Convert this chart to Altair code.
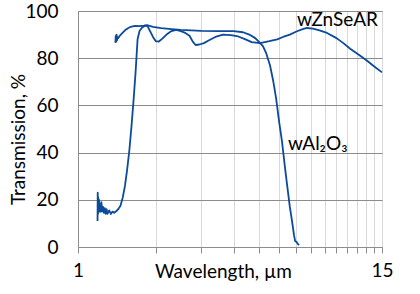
import altair as alt
import pandas as pd

# ---- data ----
znse_wl = [1.190, 1.192, 1.195, 1.198, 1.203, 1.207, 1.212, 1.218, 1.225, 1.232, 1.24, 1.25, 1.26,
           1.27, 1.28, 1.29, 1.30, 1.32, 1.34, 1.36, 1.38, 1.40, 1.43, 1.46, 1.49, 1.52, 1.55, 1.58,
           1.61, 1.64, 1.67, 1.70, 1.73, 1.77, 1.82, 1.86, 1.90, 1.95, 2.00, 2.05, 2.12, 2.2, 2.3,
           2.4, 2.5, 2.6, 2.7, 2.78, 2.85, 2.95, 3.07, 3.2, 3.4, 3.64, 3.9, 4.12, 4.4, 4.7, 5.06,
           5.5, 5.9, 6.21, 6.6, 7.0, 7.4, 7.69, 8.1, 8.6, 9.19, 10.0, 10.6, 11.3, 12.2, 13.1, 14.0, 15.0]
znse_t = [11, 23, 14, 21, 16, 20, 15, 18, 15, 19, 15, 17, 14.5,
          16.5, 14, 16, 14, 15.5, 14, 15, 14.5, 15, 16, 17.5, 21, 26, 33, 41,
          51, 62, 74, 88, 91.5, 93, 93.8, 93.5, 91.5, 89, 87.2, 87, 88.3, 90, 91.5,
          92, 91.5, 90.7, 89.5, 87, 85.6, 85.8, 86.4, 87.5, 89, 90, 89.8, 89.4, 88.2, 86.8, 86.4,
          87.2, 88, 89, 90, 91.3, 92.3, 92.8, 92.5, 91.8, 90.7, 88.5, 86.5, 84, 81.5, 79, 76.5, 74]

al_wl = [1.395, 1.40, 1.405, 1.41, 1.415, 1.42, 1.43, 1.45, 1.48, 1.52, 1.56, 1.6, 1.66, 1.72,
         1.8, 1.85, 1.95, 2.1, 2.3, 2.5, 3.0, 3.5, 4.0, 4.35, 4.6, 4.85, 5.06, 5.2, 5.35, 5.53,
         5.7, 5.84, 6.0, 6.15, 6.3, 6.43, 6.6, 6.73, 6.85, 6.92, 7.0, 7.1, 7.17]
al_t = [86.5, 89.5, 87, 90, 87.5, 89, 88.5, 89.5, 90.5, 91.8, 92.7, 93.3, 93.7, 93.6,
        93.8, 94, 93.3, 92.7, 92.3, 92, 91.6, 91.5, 91.5, 91, 90, 88.5, 86.5, 85, 82, 77,
        70, 63, 53, 45, 35, 27, 17, 11, 5, 2.5, 2.2, 1.2, 0.8]

x_ticks = list(range(1, 16))
y_ticks = [0, 20, 40, 60, 80, 100]

label_text = ["wZnSeAR", "wAl\u2082O\u2083"]
label_wl = [7.03, 6.49]
label_t = [93.6, 41.1]

FONT = "Lato"
LINE = "#0c4a9c"

rows = []
for i, (w, t) in enumerate(zip(znse_wl, znse_t)):
    rows.append({"series": "ZnSe", "i": i, "wl": w, "t": t})
for i, (w, t) in enumerate(zip(al_wl, al_t)):
    rows.append({"series": "Al2O3", "i": i, "wl": w, "t": t})
df = pd.DataFrame(rows)
lab = pd.DataFrame({"txt": label_text, "wl": label_wl, "t": label_t})

xscale = alt.Scale(type="log", domain=[1, 15], nice=False)
yscale = alt.Scale(domain=[0, 100], nice=False)

xaxis = alt.Axis(values=x_ticks, format="d",
                 labelExpr="datum.value == 1 || datum.value == 15 ? datum.label : ''",
                 labelFlush=False, labelOverlap=False, labelBound=False,
                 labelFont=FONT, labelFontSize=19, labelColor="#000000", labelPadding=8,
                 ticks=True, tickSize=6, tickColor="#8c8c8c",
                 domainColor="#8c8c8c", grid=True, gridColor="#d9d9d9", gridWidth=1,
                 title="Wavelength, \u00b5m", titleFont=FONT, titleFontSize=19,
                 titleFontWeight="normal", titleColor="#000000",
                 titleX=145, titleY=30, titleAlign="center", titleBaseline="alphabetic",
                 titleAngle=0)
yaxis = alt.Axis(values=y_ticks, labelFont=FONT, labelFontSize=19, labelColor="#000000",
                 labelPadding=20, ticks=False, tickSize=0,
                 domainColor="#8c8c8c", grid=True, gridColor="#8c8c8c", gridWidth=1,
                 title="Transmission, %", titleFont=FONT, titleFontSize=19,
                 titleFontWeight="normal", titleColor="#000000",
                 titleX=-60, titleY=128, titleAngle=-90, titleAlign="center",
                 titleBaseline="middle")

lines = alt.Chart(df).mark_line(color=LINE, strokeWidth=1.8, strokeJoin="round").encode(
    x=alt.X("wl:Q", scale=xscale, axis=xaxis),
    y=alt.Y("t:Q", scale=yscale, axis=yaxis),
    detail="series:N",
    order="i:Q",
)

texts = alt.Chart(lab).mark_text(font=FONT, fontSize=19, color="#000000", align="left",
                                 baseline="alphabetic").encode(
    x=alt.X("wl:Q", scale=xscale),
    y=alt.Y("t:Q", scale=yscale),
    text="txt:N",
)

chart = alt.layer(lines, texts).properties(
    width=304, height=236,
    autosize=alt.AutoSizeParams(type="none"),
    padding={"left": 78, "top": 11, "right": 38, "bottom": 47},
).configure_view(stroke="#8c8c8c", strokeWidth=1)

chart.save("out.html", embed_options={"renderer": "svg", "actions": False})
